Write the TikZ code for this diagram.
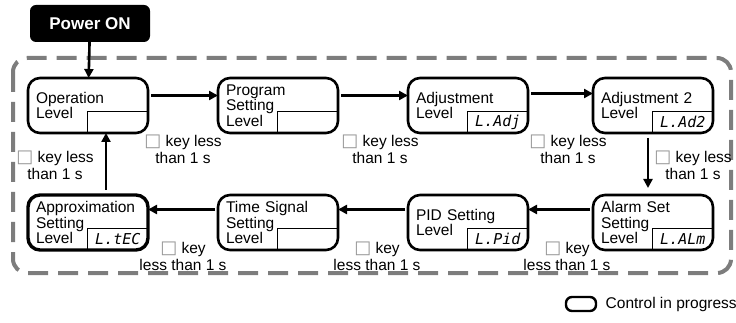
\documentclass[tikz,border=0pt]{standalone}
\usepackage{fontspec}
\setmainfont{Liberation Sans}
\newfontfamily\symfont{DejaVu Sans}
\newfontfamily\segfont{DejaVu Sans Mono}
\usetikzlibrary{arrows.meta,positioning}
\definecolor{framegray}{RGB}{125,125,125}
\definecolor{keygray}{RGB}{150,150,150}
\newcommand{\keysq}{{\symfont\fontsize{18}{17}\selectfont\color{keygray}\char"25A1}}

\begin{document}
\begin{tikzpicture}[
  x=1pt, y=-1pt,
  node distance=70pt,
  level/.style={draw, line width=2.6pt, outer sep=0pt, rounded corners=12pt, minimum width=120pt, minimum height=55pt, text width=104pt, inner xsep=8pt, inner ysep=0pt, align=left, font=\fontsize{15.5}{15.5}\selectfont},
  disp/.style={minimum width=60pt, minimum height=21pt, inner sep=0pt, font=\segfont\itshape\fontsize{15}{15}\selectfont},
  keylbl/.style={align=center, font=\fontsize{15.5}{17}\selectfont},
  arr/.style={-{Triangle[length=9pt,width=9pt]}, line width=2.6pt},
  power/.style={fill=black, rounded corners=6pt, minimum width=120pt, minimum height=37pt, text=white, font=\bfseries\fontsize{17}{17}\selectfont}
]
\useasboundingbox (0,0) rectangle (736,323);
\draw[framegray, line width=4pt, dash pattern=on 20pt off 10pt, rounded corners=14pt] (13,58) rectangle (731,273);

\node[power] (pwr) at (90,23.5) {Power ON};
\node[level] (op) at (88,105.5) {Operation\\Level};
\node[level, right=of op] (prog) {Program\\Setting\\Level};
\node[level, right=of prog] (adj) {Adjustment\\Level};
\node[level, right=65pt of adj] (adjb) {Adjustment 2\\Level};
\node[level, below=62pt of adjb] (alarm) {Alarm Set\\Setting\\Level};
\node[level, below=62pt of adj] (pid) {PID Setting\\Level};
\node[level, below=62pt of prog] (tsig) {Time Signal\\Setting\\Level};
\node[level, below=62pt of op, line width=3.4pt] (approx) {Approximation\\Setting\\Level};

\node[disp, anchor=south east] (opd) at (op.south east) {};
\node[disp, anchor=south east] (progd) at (prog.south east) {};
\node[disp, anchor=south east] (adjd) at (adj.south east) {L.Adj};
\node[disp, anchor=south east] (adjbd) at (adjb.south east) {L.Ad2};
\node[disp, anchor=south east] (alarmd) at (alarm.south east) {L.ALm};
\node[disp, anchor=south east] (pidd) at (pid.south east) {L.Pid};
\node[disp, anchor=south east] (tsigd) at (tsig.south east) {};
\node[disp, anchor=south east] (approxd) at (approx.south east) {L.tEC};
\foreach \d in {opd,progd,adjd,adjbd,alarmd,pidd,tsigd,approxd}
  \draw[line width=1.3pt] (\d.south west) |- (\d.north east);

\draw[arr] (pwr) -- (op);
\draw[arr, shorten <=3pt] ([yshift=10pt]op.east) -- ([yshift=10pt]prog.west);
\draw[arr, shorten <=3pt] ([yshift=10pt]prog.east) -- ([yshift=10pt]adj.west);
\draw[arr, shorten <=3pt] ([yshift=12pt]adj.east) -- ([yshift=12pt]adjb.west);
\draw[arr, shorten <=5pt, shorten >=7pt] ([xshift=-5pt]adjb.south) -- ([xshift=-5pt]alarm.north);
\draw[arr, shorten <=3pt] ([yshift=13pt]alarm.west) -- ([yshift=13pt]pid.east);
\draw[arr, shorten <=3pt] ([yshift=13pt]pid.west) -- ([yshift=13pt]tsig.east);
\draw[arr, shorten <=3pt] ([yshift=13pt]tsig.west) -- ([yshift=13pt]approx.east);
\draw[arr, shorten <=5pt] ([xshift=18pt]approx.north) -- ([xshift=18pt]op.south);

\node[keylbl] (k1) at (183,149) {\keysq{} key less\\than 1 s};
\node[keylbl] (k2) at (380,149) {\keysq{} key less\\than 1 s};
\node[keylbl] (k3) at (568,149) {\keysq{} key less\\than 1 s};
\node[keylbl] (k4) at (693,165) {\keysq{} key less\\than 1 s};
\node[keylbl] (k5) at (55,165) {\keysq{} key less\\than 1 s};
\node[keylbl] (k6) at (183,256) {\keysq{} key\\less than 1 s};
\node[keylbl] (k7) at (377,256) {\keysq{} key\\less than 1 s};
\node[keylbl] (k8) at (567,256) {\keysq{} key\\less than 1 s};

\node[draw, line width=2.4pt, rounded corners=6pt, minimum width=30pt, minimum height=14pt, inner sep=0pt] (leg) at (581,304) {};
\node[keylbl, right=5pt of leg] (legtxt) {Control in progress};
\end{tikzpicture}
\end{document}
